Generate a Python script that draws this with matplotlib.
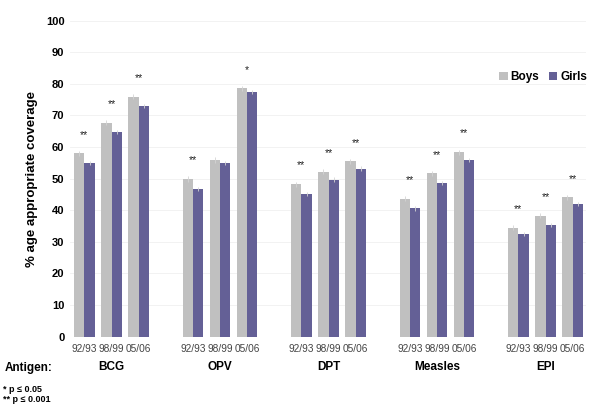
import matplotlib
matplotlib.use("Agg")
import matplotlib.pyplot as plt
import numpy as np

antigens = ["BCG", "OPV", "DPT", "Measles", "EPI"]
years = ["92/93", "98/99", "05/06"]
boys = [58.0, 67.7, 75.9, 49.9, 55.9, 78.6, 48.3, 52.2, 55.5, 43.7, 51.7, 58.4, 34.4, 38.3, 44.1]
girls = [54.9, 64.8, 73.0, 46.8, 54.9, 77.4, 45.1, 49.7, 53.2, 40.6, 48.6, 55.9, 32.4, 35.4, 42.0]
boys_err = [0.8] * 15
girls_err = [0.7] * 15
stars = ["**", "**", "**", "**", "", "*", "**", "**", "**", "**", "**", "**", "**", "**", "**"]

plt.rcParams["font.family"] = ["Liberation Sans", "DejaVu Sans"]

boy_color = "#c0c0c0"
girl_color = "#646096"

fig = plt.figure(figsize=(6, 4.05), dpi=100)
ax = fig.add_axes([0.1167, 0.1687, 0.8603, 0.7803])

# 3 year slots per antigen, one empty slot between antigens
pos = np.array([g * 4 + k for g in range(len(antigens)) for k in range(len(years))], dtype=float)
w = 0.38
ax.bar(pos - w / 2, boys, w, color=boy_color, label="Boys", zorder=2,
       yerr=boys_err, error_kw=dict(ecolor="#d4d4d4", elinewidth=0.6, capsize=0))
ax.bar(pos + w / 2, girls, w, color=girl_color, label="Girls", zorder=2,
       yerr=girls_err, error_kw=dict(ecolor="#d4d4d4", elinewidth=0.6, capsize=0))

for x, b, s in zip(pos, boys, stars):
    if s:
        ax.text(x, b + 4.3, s, ha="center", va="bottom", fontsize=7.5, color="#222222")

ax.set_xlim(-0.53, 18.5)
ax.set_ylim(0, 100)
ax.set_yticks(range(0, 101, 10))
ax.set_yticklabels([str(v) for v in range(0, 101, 10)], fontsize=8, fontweight="bold")
ax.yaxis.grid(True, color="#f0f0f0", linewidth=0.6, zorder=0)
ax.set_axisbelow(True)
ax.tick_params(axis="y", length=0, pad=4)
ax.tick_params(axis="x", length=0, pad=5)
ax.set_xticks(pos)
ax.set_xticklabels(years * len(antigens), fontsize=7.3, color="#444444")
for sp in ax.spines.values():
    sp.set_visible(False)

ax.set_ylabel("% age appropriate coverage", fontsize=9.5, fontweight="bold", labelpad=6)

for g, name in enumerate(antigens):
    ax.text(g * 4 + 1, -9.5, name, ha="center", va="center", fontsize=8.5, fontweight="bold")
fig.text(0.008, (405 - 368) / 405, "Antigen:", fontsize=8.5, fontweight="bold", va="center")
fig.text(0.005, (405 - 389) / 405, "* p \u2264 0.05", fontsize=6.5, fontweight="bold", va="center")
fig.text(0.005, (405 - 400) / 405, "** p \u2264 0.001", fontsize=6.5, fontweight="bold", va="center")

ax.legend(loc="upper right", bbox_to_anchor=(1.022, 0.875), ncol=2, frameon=False,
          prop=dict(size=8.5, weight="bold"), handlelength=0.7, handleheight=0.7,
          handletextpad=0.25, columnspacing=0.8)

fig.savefig("out.png", dpi=100)
